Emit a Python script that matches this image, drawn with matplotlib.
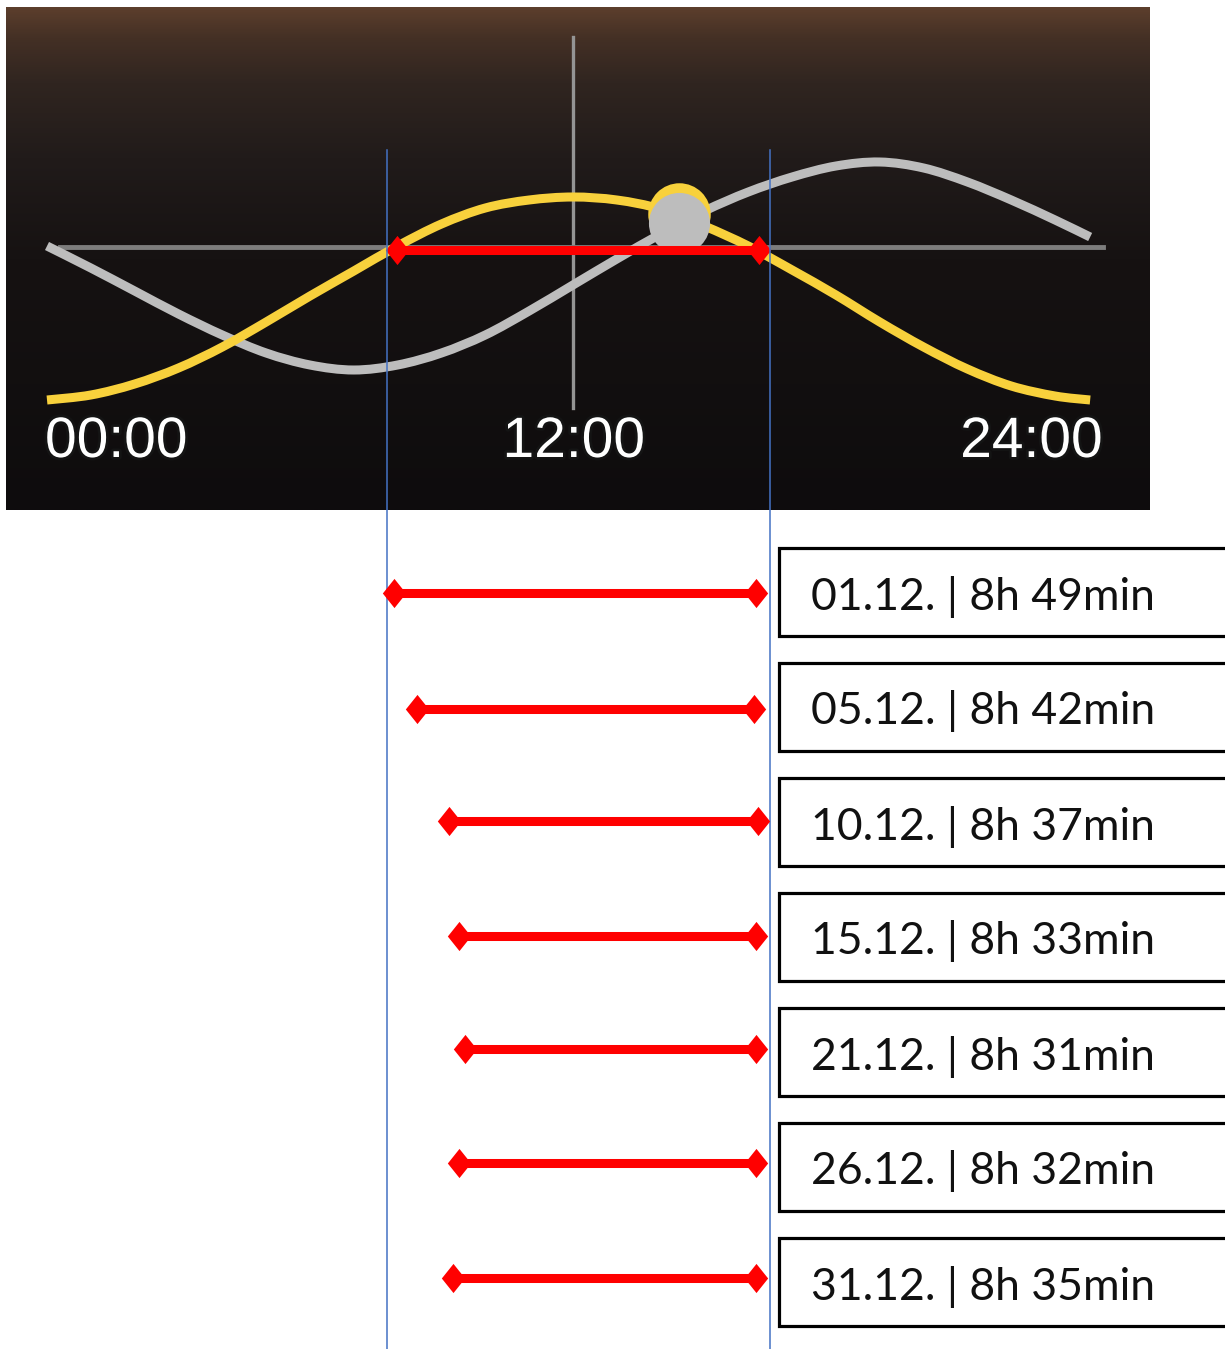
import numpy as np
import matplotlib
matplotlib.use("Agg")
import matplotlib.pyplot as plt
from matplotlib import patheffects
from matplotlib.patches import Rectangle, PathPatch
from matplotlib.path import Path


# --- data ------------------------------------------------------------------
time_labels = ["00:00", "12:00", "24:00"]
label_hours = [0, 12, 24]

# sun path (hour of day, height above horizon)
sun_hours = [0, 1, 2, 3, 4, 5, 6, 7, 8, 9, 10, 11, 12,
             13, 14, 15, 16, 17, 18, 19, 20, 21, 22, 23, 23.8]
sun_alt = [-153, -148, -137, -121, -100, -75, -49, -24, 1, 23, 39, 47, 50,
           47, 38, 21, 1, -23, -48, -75, -100, -122, -139, -149, -153]

# moon path
moon_hours = [0, 1, 2, 3, 4, 5, 6, 7, 8, 9, 10, 11, 12,
              13, 14, 15, 16, 17, 18, 19, 20, 21, 22, 23, 23.8]
moon_alt = [1, -21, -44, -67, -88, -106, -118, -123, -118, -106, -88, -64, -38,
            -12, 13, 36, 55, 70, 81, 85, 79, 65, 47, 27, 10]

moon_hour, moon_height = 14.42, 24
sun_disc_height = 33

today_rise, today_set = 7.99, 16.24
guide_hours = [7.76, 16.50]

dates = ["01.12.", "05.12.", "10.12.", "15.12.", "21.12.", "26.12.", "31.12."]
durations = ["8h 49min", "8h 42min", "8h 37min", "8h 33min",
             "8h 31min", "8h 32min", "8h 35min"]
sunrise = [7.92, 8.44, 9.17, 9.40, 9.54, 9.40, 9.26]
sunset = [16.18, 16.13, 16.22, 16.18, 16.18, 16.18, 16.18]


# --- layout helpers (pixels of the 1225x1349 image) --------------------------
W, H = 1225, 1349
X0, PX_PER_H = 47, 43.83
HORIZON_PX = 247


def px_to_h(px):
    return (px - X0) / PX_PER_H


def smooth_path(xs, ys):
    # bezier segments through the read points (smoothed line, like office charts)
    pts = np.column_stack([xs, ys]).astype(float)
    ext = np.vstack([pts[0], pts, pts[-1]])
    verts = [pts[0]]
    codes = [Path.MOVETO]
    for i in range(1, len(ext) - 2):
        p0, p1, p2, p3 = ext[i - 1], ext[i], ext[i + 1], ext[i + 2]
        verts += [p1 + (p2 - p0) / 6, p2 - (p3 - p1) / 6, p2]
        codes += [Path.CURVE4] * 3
    return Path(verts, codes)


diamond = [(0, 1), (0.8, 0), (0, -1), (-0.8, 0)]

fig = plt.figure(figsize=(W / 100, H / 100), dpi=100)

# dark panel with the day curves
pan_left, pan_right, pan_top, pan_bottom = 6, 1150, 7, 510
pax = fig.add_axes([pan_left / W, 1 - pan_bottom / H,
                    (pan_right - pan_left) / W, (pan_bottom - pan_top) / H])
pax.set_xlim(px_to_h(pan_left), px_to_h(pan_right))
pax.set_ylim(HORIZON_PX - pan_bottom, HORIZON_PX - pan_top)
pax.axis("off")

t = np.linspace(0, 1, 300)
stops = [0, 0.06, 0.15, 0.3, 0.5, 1.0]
reds = np.interp(t, stops, [92, 68, 48, 33, 22, 14])
greens = np.interp(t, stops, [62, 48, 37, 27, 18, 12])
blues = np.interp(t, stops, [44, 37, 32, 26, 18, 13])
grad = np.stack([reds, greens, blues], axis=1)[:, None, :] / 255
pax.imshow(grad, extent=[*pax.get_xlim(), *pax.get_ylim()], aspect="auto",
           origin="upper", zorder=0)

pax.plot([label_hours[1], label_hours[1]], [210, -161], color="#949494", lw=2.4, zorder=1)
pax.plot([0.3, 24.1], [0, 0], color="#7d7d7d", lw=3.5, zorder=1)
pax.add_patch(PathPatch(smooth_path(moon_hours, moon_alt), fill=False,
                        edgecolor="#bdbdbd", lw=6.5, capstyle="butt", zorder=2))
pax.add_patch(PathPatch(smooth_path(sun_hours, sun_alt), fill=False,
                        edgecolor="#f8d13c", lw=6.5, capstyle="butt", zorder=3))
pax.plot(moon_hour, sun_disc_height, "o", ms=45, color="#f8d13c", mec="none", zorder=4)
pax.plot(moon_hour, moon_height, "o", ms=44, color="#bdbdbd", mec="none", zorder=5)
pax.plot([today_rise, today_set], [-3, -3], color="#ff0000", lw=6.5,
         marker=diamond, ms=21, mec="none", solid_capstyle="butt", zorder=6)

stroke = [patheffects.withStroke(linewidth=4, foreground="#141414")]
aligns = ["left", "center", "right"]
offsets = [-2, 1, 4]
for lab, hr, ha, off in zip(time_labels, label_hours, aligns, offsets):
    pax.text(hr + off / PX_PER_H, HORIZON_PX - 442, lab, ha=ha, va="center",
             fontsize=41, color="white", family="Liberation Sans",
             path_effects=stroke, zorder=7)

# overlay for guides, bars and boxes
ax = fig.add_axes([0, 0, 1, 1])
ax.set_xlim(px_to_h(0), px_to_h(W))
ax.set_ylim(H, 0)
ax.patch.set_alpha(0)
ax.axis("off")

for gh in guide_hours:
    ax.plot([gh, gh], [150, H], color="#4472c4", lw=1.1, zorder=3)

bar_y = [593, 709, 821, 936, 1049, 1163, 1278]
for i, (d, dur, rise, sset) in enumerate(zip(dates, durations, sunrise, sunset)):
    ax.plot([rise, sset], [bar_y[i], bar_y[i]], color="#ff0000", lw=6.5,
            marker=diamond, ms=21, mec="none", solid_capstyle="butt", zorder=4)
    cy = 591.5 + 115 * i
    box = Rectangle((px_to_h(779), cy - 44), px_to_h(1245) - px_to_h(779), 88,
                    facecolor="white", edgecolor="black", lw=2.3, zorder=2)
    ax.add_patch(box)
    ax.text(px_to_h(811), cy + 18, f"{d} | {dur}", ha="left", va="baseline",
            fontsize=32, family="Lato", color="#111111", zorder=5)

fig.savefig("out.png", dpi=100)
plt.close(fig)
